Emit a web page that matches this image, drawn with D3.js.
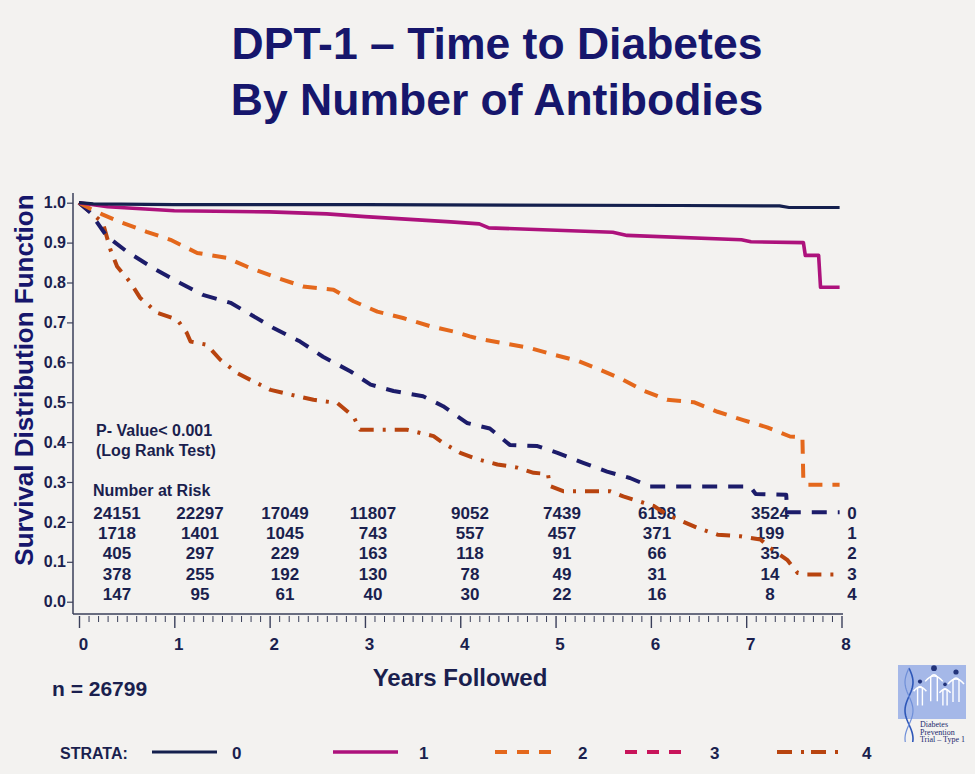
<!DOCTYPE html>
<html>
<head>
<meta charset="utf-8">
<script src="https://cdn.jsdelivr.net/npm/d3@7"></script>
<style>
  html, body { margin: 0; padding: 0; background: #f3f2f0; }
  svg { display: block; }
  text { font-family: "Liberation Sans", Arial, sans-serif; font-weight: bold; }
</style>
</head>
<body>
<svg id="chart" width="975" height="774"></svg>
<script>
// ---------- DATA ----------
const titleLines = ["DPT-1 \u2013 Time to Diabetes", "By Number of Antibodies"];
const yTickValues = [0, 0.1, 0.2, 0.3, 0.4, 0.5, 0.6, 0.7, 0.8, 0.9, 1.0];
const xTickValues = [0, 1, 2, 3, 4, 5, 6, 7, 8];
const strata = ["0", "1", "2", "3", "4"];

// Kaplan-Meier curves (years, survival), as traced vertices
const s0Time = [0, 0.15, 1.0, 3.0, 6.3, 7.35, 7.45, 7.98];
const s0Surv = [1.0, 0.997, 0.995, 0.995, 0.993, 0.992, 0.988, 0.988];

const s1Time = [0, 0.3, 1.0, 2.0, 2.6, 3.0, 3.9, 4.2, 4.3, 5.6, 5.75, 6.95, 7.05, 7.6, 7.62, 7.76, 7.78, 7.98];
const s1Surv = [1.0, 0.99, 0.98, 0.977, 0.972, 0.965, 0.952, 0.947, 0.937, 0.926, 0.918, 0.907, 0.902, 0.90, 0.868, 0.868, 0.788, 0.788];

const s2Time = [0, 0.12, 0.25, 0.45, 0.71, 0.96, 1.24, 1.55, 1.76, 2.04, 2.35, 2.67, 2.88, 3.13, 3.40, 3.69, 3.93, 4.10, 4.18, 4.45, 4.73, 4.98, 5.23, 5.47, 5.71, 5.92, 6.17, 6.45, 6.70, 6.97, 7.22, 7.46, 7.59, 7.60, 7.65, 7.98];
const s2Surv = [1.0, 0.985, 0.97, 0.95, 0.927, 0.907, 0.874, 0.862, 0.84, 0.815, 0.79, 0.782, 0.753, 0.727, 0.711, 0.69, 0.677, 0.665, 0.66, 0.648, 0.636, 0.619, 0.604, 0.581, 0.556, 0.529, 0.506, 0.50, 0.476, 0.455, 0.437, 0.414, 0.412, 0.30, 0.293, 0.293];

const s3Time = [0, 0.12, 0.29, 0.50, 0.78, 1.06, 1.30, 1.59, 1.80, 2.04, 2.32, 2.56, 2.85, 3.06, 3.30, 3.61, 3.82, 4.07, 4.31, 4.52, 4.81, 5.02, 5.29, 5.54, 5.78, 5.99, 7.04, 7.10, 7.42, 7.43, 7.98];
const s3Surv = [1.0, 0.975, 0.916, 0.878, 0.836, 0.799, 0.769, 0.749, 0.72, 0.686, 0.652, 0.614, 0.577, 0.544, 0.528, 0.515, 0.49, 0.448, 0.434, 0.393, 0.39, 0.373, 0.348, 0.326, 0.31, 0.289, 0.289, 0.27, 0.268, 0.224, 0.224];

const s4Time = [0, 0.25, 0.33, 0.40, 0.54, 0.64, 0.82, 1.03, 1.13, 1.17, 1.34, 1.48, 1.66, 1.83, 2.01, 2.22, 2.46, 2.71, 2.88, 2.95, 3.44, 3.72, 3.82, 4.00, 4.18, 4.39, 4.60, 4.77, 4.92, 4.94, 5.08, 5.57, 5.71, 6.03, 6.17, 6.49, 6.70, 6.94, 7.15, 7.25, 7.43, 7.54, 7.64, 7.98];
const s4Surv = [1.0, 0.95, 0.882, 0.84, 0.80, 0.762, 0.724, 0.707, 0.674, 0.652, 0.644, 0.607, 0.573, 0.552, 0.531, 0.519, 0.506, 0.498, 0.464, 0.431, 0.431, 0.415, 0.398, 0.373, 0.357, 0.344, 0.336, 0.323, 0.32, 0.29, 0.277, 0.277, 0.264, 0.24, 0.218, 0.185, 0.168, 0.164, 0.156, 0.135, 0.105, 0.072, 0.068, 0.068];

// Number at risk, by stratum, at years 0..7
const risk0 = [24151, 22297, 17049, 11807, 9052, 7439, 6198, 3524];
const risk1 = [1718, 1401, 1045, 743, 557, 457, 371, 199];
const risk2 = [405, 297, 229, 163, 118, 91, 66, 35];
const risk3 = [378, 255, 192, 130, 78, 49, 31, 14];
const risk4 = [147, 95, 61, 40, 30, 22, 16, 8];

const pValueLines = ["P- Value< 0.001", "(Log Rank Test)"];
const nTotal = "n = 26799";

// ---------- LAYOUT / STYLE ----------
const NAVY = "#16166c";
const TXT = "#1a1f4e";
const styles = [
  { color: "#14204e", width: 3.2, dash: null },            // 0
  { color: "#ad127c", width: 3.6, dash: null },            // 1
  { color: "#e4681c", width: 4, dash: "14,10" },           // 2
  { color: "#1c1c6a", width: 4, dash: "15,11" },           // 3
  { color: "#b8440f", width: 4, dash: "14,9,3,9" }         // 4
];
const legendStyles = [
  { color: "#14204e", width: 3.2, dash: null },
  { color: "#ad127c", width: 3.6, dash: null },
  { color: "#e4681c", width: 4, dash: "12,10" },
  { color: "#c8145a", width: 4, dash: "12,10" },
  { color: "#b8440f", width: 4, dash: "15,9,3,7" }
];

const svg = d3.select("#chart");
svg.append("rect").attr("width", 975).attr("height", 774).attr("fill", "#f3f2f0");

const x = d3.scaleLinear().domain([0, 8]).range([79, 841.5]);
const y = d3.scaleLinear().domain([0, 1]).range([601.7, 202.7]);

// Title
svg.selectAll("text.title").data(titleLines).join("text")
  .attr("class", "title")
  .attr("x", 497).attr("y", (d, i) => 59 + i * 55.5)
  .attr("text-anchor", "middle")
  .attr("font-size", 44.5)
  .attr("fill", NAVY)
  .text(d => d);

// Y axis
const yAxis = d3.axisLeft(y).tickValues(yTickValues).tickFormat(d3.format(".1f")).tickSize(6).tickPadding(1);
const gy = svg.append("g").attr("transform", "translate(73,0)").call(yAxis);
gy.select(".domain").remove();
gy.selectAll("line").attr("stroke", "#3a3f5a").attr("stroke-width", 1.2);
gy.selectAll("text").attr("font-size", 16).attr("fill", TXT);
svg.append("line").attr("x1", 73).attr("x2", 73).attr("y1", 193).attr("y2", 614)
  .attr("stroke", "#3a3f5a").attr("stroke-width", 1.5);

// X axis
svg.append("line").attr("x1", 73).attr("x2", 843).attr("y1", 614).attr("y2", 614)
  .attr("stroke", "#3a3f5a").attr("stroke-width", 1.5);
const minorTicks = d3.range(0, 80).map(i => i / 10).filter(v => Math.abs(v - Math.round(v)) > 1e-6);
const xMinor = d3.axisBottom(x).tickValues(minorTicks).tickSize(6).tickFormat("");
const gxm = svg.append("g").attr("transform", "translate(0,616)").call(xMinor);
gxm.select(".domain").remove();
gxm.selectAll("line").attr("stroke", "#3a3f5a").attr("stroke-width", 1);
const xMajor = d3.axisBottom(x).tickValues(xTickValues).tickSize(12).tickPadding(10).tickFormat(d3.format("d"));
const gx = svg.append("g").attr("transform", "translate(0,616)").call(xMajor);
gx.select(".domain").remove();
gx.selectAll("line").attr("stroke", "#3a3f5a").attr("stroke-width", 1.4);
gx.selectAll("text").attr("font-size", 17).attr("fill", TXT).attr("dx", 4);

// Axis titles
svg.append("text").attr("transform", "translate(33,380) rotate(-90)")
  .attr("text-anchor", "middle").attr("font-size", 26).attr("fill", NAVY)
  .text("Survival Distribution Function");
svg.append("text").attr("x", 460).attr("y", 686).attr("text-anchor", "middle")
  .attr("font-size", 24).attr("fill", TXT).text("Years Followed");
svg.append("text").attr("x", 52).attr("y", 696).attr("font-size", 21).attr("fill", TXT).text(nTotal);

// P-value
svg.selectAll("text.pval").data(pValueLines).join("text").attr("class", "pval")
  .attr("x", 96).attr("y", (d, i) => 436 + i * 20)
  .attr("font-size", 16).attr("fill", TXT).text(d => d);

// Number at risk
svg.append("text").attr("x", 93).attr("y", 496).attr("font-size", 16).attr("fill", TXT).text("Number at Risk");
const riskRows = [risk0, risk1, risk2, risk3, risk4];
const riskColX = [117, 200, 285, 373, 470, 562, 657, 770];
riskRows.forEach((row, r) => {
  svg.append("g").selectAll("text").data(row).join("text")
    .attr("x", (d, i) => riskColX[i])
    .attr("y", 519 + r * 20.2)
    .attr("text-anchor", "middle")
    .attr("font-size", 17).attr("fill", TXT)
    .text(d => d);
  svg.append("text").attr("x", 852).attr("y", 519 + r * 20.2).attr("text-anchor", "middle")
    .attr("font-size", 17).attr("fill", TXT).text(strata[r]);
});

// Curves
const times = [s0Time, s1Time, s2Time, s3Time, s4Time];
const survs = [s0Surv, s1Surv, s2Surv, s3Surv, s4Surv];
const line = d3.line().x(d => x(d[0])).y(d => y(d[1])).curve(d3.curveLinear);
const drawOrder = [4, 3, 2, 1, 0];
drawOrder.forEach(k => {
  const pts = times[k].map((t, i) => [t, survs[k][i]]);
  const p = svg.append("path").datum(pts).attr("d", line)
    .attr("fill", "none").attr("stroke", styles[k].color)
    .attr("stroke-width", styles[k].width).attr("stroke-linejoin", "round");
  if (styles[k].dash) p.attr("stroke-dasharray", styles[k].dash);
});

// Legend
svg.append("text").attr("x", 60).attr("y", 759).attr("font-size", 16).attr("fill", TXT).text("STRATA:");
const legX1 = [152, 333, 495, 625, 777];
const legX2 = [217, 398, 552, 682, 840];
const legLab = [232, 419, 578, 710, 862];
strata.forEach((s, i) => {
  const l = svg.append("line").attr("x1", legX1[i]).attr("x2", legX2[i]).attr("y1", 752).attr("y2", 752)
    .attr("stroke", legendStyles[i].color).attr("stroke-width", legendStyles[i].width);
  if (legendStyles[i].dash) l.attr("stroke-dasharray", legendStyles[i].dash);
  svg.append("text").attr("x", legLab[i]).attr("y", 759).attr("font-size", 17).attr("fill", TXT).text(s);
});

// Logo (decorative)
const logo = svg.append("g");
logo.append("rect").attr("x", 898).attr("y", 665).attr("width", 68).attr("height", 54).attr("fill", "#a5b8e8");
const helixA = d3.range(0, 76, 2).map(v => [909 + 4 * Math.sin(v / 9), 668 + v]);
const helixB = d3.range(0, 76, 2).map(v => [909 - 4 * Math.sin(v / 9), 668 + v]);
logo.append("path").attr("d", d3.line()(helixA)).attr("fill", "none").attr("stroke", "#2e57b8").attr("stroke-width", 1.6);
logo.append("path").attr("d", d3.line()(helixB)).attr("fill", "none").attr("stroke", "#6f8fd8").attr("stroke-width", 1.2);
const figs = [[920, 688, 0.8], [934, 677, 1.1], [945, 690, 0.7], [956, 680, 1.0]];
figs.forEach(f => {
  const [cx, cy, s] = f;
  logo.append("circle").attr("cx", cx).attr("cy", cy - 8 * s).attr("r", 2.6 * s).attr("fill", "#22337a");
  logo.append("path").attr("d", `M${cx - 8 * s},${cy + 4 * s} Q${cx},${cy - 6 * s} ${cx + 8 * s},${cy + 4 * s}`)
    .attr("fill", "none").attr("stroke", "#ffffff").attr("stroke-width", 1.5);
  logo.append("path").attr("d", `M${cx - 3 * s},${cy + 22 * s} L${cx - 3 * s},${cy} Q${cx},${cy - 4 * s} ${cx + 3 * s},${cy} L${cx + 3 * s},${cy + 22 * s}`)
    .attr("fill", "none").attr("stroke", "#ffffff").attr("stroke-width", 1.4);
});
const logoText = ["Diabetes", "Prevention", "Trial \u2013 Type 1"];
logoText.forEach((t, i) => {
  logo.append("text").attr("x", 920).attr("y", 727 + i * 7.5)
    .style("font-family", "'Liberation Serif', 'DejaVu Serif', serif").style("font-weight", "normal")
    .attr("font-size", 8).attr("fill", "#1c2a6e").text(t);
});
</script>
</body>
</html>
